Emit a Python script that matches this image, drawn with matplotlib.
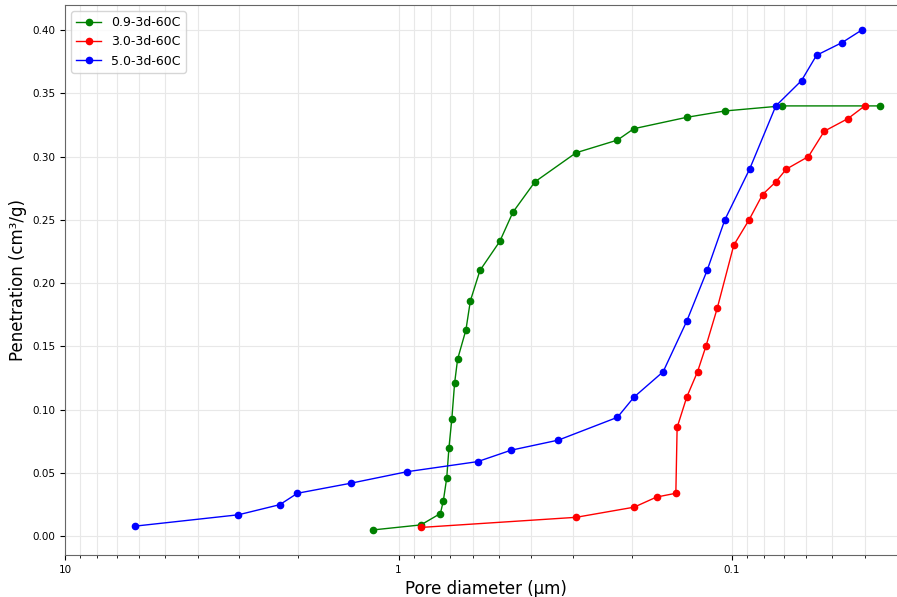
import matplotlib.pyplot as plt

# pore diameter (um) and cumulative penetration (cm3/g)
d_09 = [1.196, 0.857, 0.749, 0.734, 0.717, 0.706, 0.692, 0.679, 0.665, 0.628,
        0.609, 0.570, 0.497, 0.454, 0.390, 0.2935, 0.2206, 0.197, 0.1367,
        0.1051, 0.0709, 0.0359]
p_09 = [0.005, 0.009, 0.018, 0.028, 0.046, 0.070, 0.093, 0.121, 0.140, 0.163,
        0.186, 0.210, 0.233, 0.256, 0.280, 0.303, 0.313, 0.322, 0.331,
        0.336, 0.340, 0.340]

d_30 = [0.857, 0.2935, 0.1967, 0.1684, 0.1474, 0.1461, 0.1367, 0.1269, 0.1198,
        0.1108, 0.0988, 0.0889, 0.0810, 0.0739, 0.0688, 0.0590, 0.0529,
        0.0449, 0.0400]
p_30 = [0.007, 0.015, 0.023, 0.031, 0.034, 0.086, 0.110, 0.130, 0.150,
        0.180, 0.230, 0.250, 0.270, 0.280, 0.290, 0.300, 0.320,
        0.330, 0.340]

d_50 = [6.18, 3.02, 2.27, 2.01, 1.386, 0.944, 0.579, 0.460, 0.3316, 0.2206,
        0.1967, 0.1609, 0.1367, 0.1188, 0.1051, 0.0886, 0.0739, 0.0619,
        0.0558, 0.0468, 0.0408]
p_50 = [0.008, 0.017, 0.025, 0.034, 0.042, 0.051, 0.059, 0.068, 0.076, 0.094,
        0.110, 0.130, 0.170, 0.210, 0.250, 0.290, 0.340, 0.360,
        0.380, 0.390, 0.400]

labels = ["0.9-3d-60C", "3.0-3d-60C", "5.0-3d-60C"]
colors = ["green", "red", "blue"]

fig = plt.figure(figsize=(8.97, 5.97), dpi=100)
# axes runs a little past the right edge, like the cropped original
ax = fig.add_axes([0.0725, 0.0704, 0.938, 0.9213])

for d, p, lab, c in zip([d_09, d_30, d_50], [p_09, p_30, p_50], labels, colors):
    ax.plot(d, p, marker='o', markersize=4.5, linewidth=1, color=c, label=lab)

ax.set_xscale('log')
ax.set_xlim(10, 0.03)
ax.set_xticks([10, 1, 0.1])
ax.set_xticklabels(["10", "1", "0.1"])
ax.tick_params(axis='both', which='major', labelsize=7.5)
ax.grid(True, which='major', color='#e8e8e8', linewidth=0.8)
ax.grid(True, which='minor', axis='x', color='#e8e8e8', linewidth=0.8)

for s in ax.spines.values():
    s.set_color('#666666')

ax.set_xlabel("Pore diameter (μm)", fontsize=12)
ax.set_ylabel("Penetration (cm³/g)", fontsize=12)
ax.legend(loc='upper left', fontsize=9)

fig.savefig("out.png", dpi=100)
